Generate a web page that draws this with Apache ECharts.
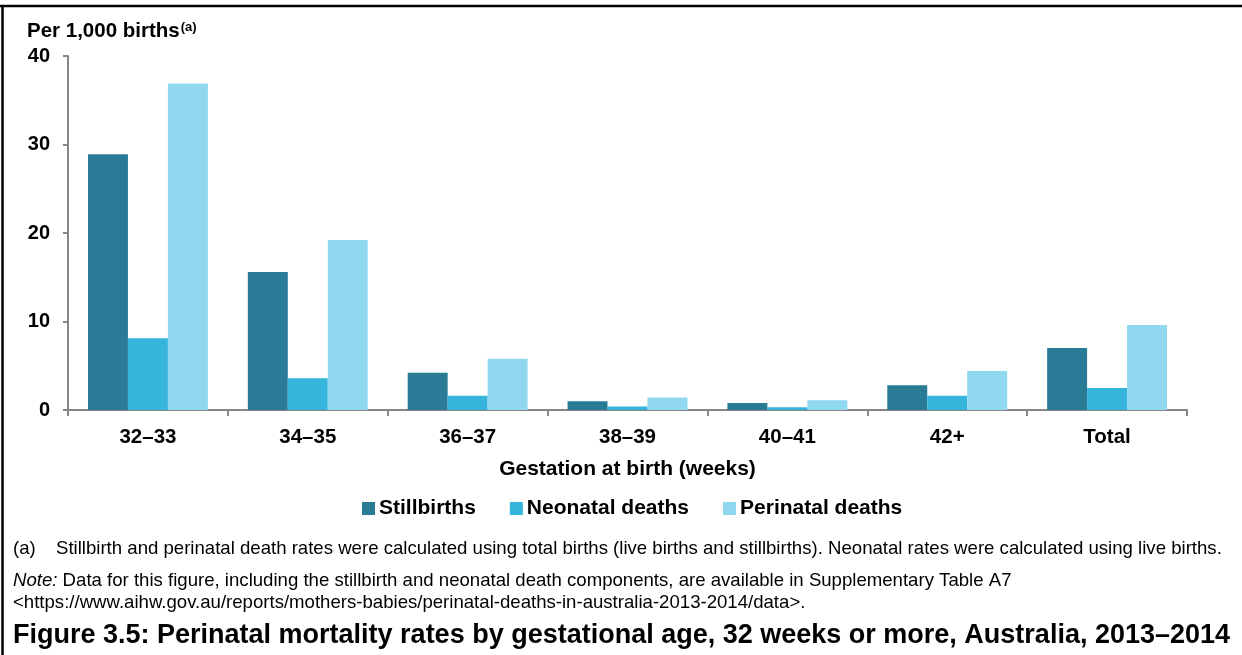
<!DOCTYPE html>
<html>
<head>
<meta charset="utf-8">
<script src="https://cdn.jsdelivr.net/npm/echarts@6/dist/echarts.min.js"></script>
<style>
html,body{margin:0;padding:0;background:#fff;}
#chart{width:1242px;height:655px;}
</style>
</head>
<body>
<div id="chart"></div>
<script>
const categories = ['32–33', '34–35', '36–37', '38–39', '40–41', '42+', 'Total'];
const stillbirths = [28.9, 15.6, 4.2, 1.0, 0.8, 2.8, 7.0];
const neonatal = [8.1, 3.6, 1.6, 0.4, 0.3, 1.6, 2.5];
const perinatal = [36.9, 19.2, 5.8, 1.4, 1.1, 4.4, 9.6];
const seriesNames = ['Stillbirths', 'Neonatal deaths', 'Perinatal deaths'];
const yTicks = [0, 10, 20, 30, 40];

const FONT = '"Liberation Sans", Arial, sans-serif';
const chart = echarts.init(document.getElementById('chart'));
const colors = ['#2a7b96', '#35b4dc', '#8fd8f0'];

chart.setOption({
  animation: false,
  textStyle: { fontFamily: FONT },
  color: colors,
  grid: { left: 68, right: 55, top: 56, bottom: 245, containLabel: false },
  xAxis: {
    type: 'category',
    data: categories,
    axisLine: { lineStyle: { color: '#868686', width: 2 } },
    axisTick: { show: true, length: 6, lineStyle: { color: '#868686', width: 2 } },
    axisLabel: { color: '#000', fontWeight: 'bold', fontSize: 20.5, margin: 17, fontFamily: FONT },
    name: 'Gestation at birth (weeks)',
    nameLocation: 'middle',
    nameGap: 49,
    nameTextStyle: { color: '#000', fontWeight: 'bold', fontSize: 21, fontFamily: FONT }
  },
  yAxis: {
    type: 'value',
    min: yTicks[0],
    max: yTicks[yTicks.length - 1],
    interval: 10,
    axisLine: { show: true, lineStyle: { color: '#868686', width: 2 } },
    axisTick: { show: true, length: 5, lineStyle: { color: '#868686', width: 2 } },
    splitLine: { show: false },
    axisLabel: { color: '#000', fontWeight: 'bold', fontSize: 20, margin: 18, fontFamily: FONT }
  },
  legend: {
    data: seriesNames,
    top: 498,
    left: 362,
    padding: 0,
    itemWidth: 13,
    itemHeight: 13,
    itemGap: 34,
    icon: 'rect',
    textStyle: { color: '#000', fontWeight: 'bold', fontSize: 21, fontFamily: FONT, padding: [0, 0, 0, -1] }
  },
  title: {
    text: '{m|Per 1,000 births}{s|(a)}',
    left: 27,
    top: 21,
    padding: 0,
    textStyle: {
      rich: {
        m: { fontWeight: 'bold', fontSize: 20.5, color: '#000', fontFamily: FONT },
        s: { fontSize: 13, color: '#000', fontFamily: FONT, verticalAlign: 'top', padding: [0, 0, 8, 1] }
      }
    }
  },
  graphic: [
    { type: 'line', shape: { x1: 0, y1: 6, x2: 1242, y2: 6 }, style: { stroke: '#000', lineWidth: 2.5 } },
    { type: 'line', shape: { x1: 2.5, y1: 5, x2: 2.5, y2: 655 }, style: { stroke: '#000', lineWidth: 2.5 } },
    { type: 'text', left: 13, top: 539, style: { text: '(a)', font: '18.6px ' + FONT, fill: '#000' } },
    { type: 'text', left: 56, top: 539, style: { text: 'Stillbirth and perinatal death rates were calculated using total births (live births and stillbirths). Neonatal rates were calculated using live births.', font: '18.6px ' + FONT, fill: '#000' } },
    { type: 'text', left: 13, top: 571, style: { text: '{i|Note:} Data for this figure, including the stillbirth and neonatal death components, are available in Supplementary Table A7', font: '18.6px ' + FONT, fill: '#000', rich: { i: { fontStyle: 'italic', fontSize: 18.6, fontFamily: FONT } } } },
    { type: 'text', left: 13, top: 593, style: { text: '<https://www.aihw.gov.au/reports/mothers-babies/perinatal-deaths-in-australia-2013-2014/data>.', font: '18.6px ' + FONT, fill: '#000' } },
    { type: 'text', left: 13, top: 622, style: { text: 'Figure 3.5: Perinatal mortality rates by gestational age, 32 weeks or more, Australia, 2013–2014', font: 'bold 27px ' + FONT, fill: '#000' } }
  ],
  series: [
    { name: seriesNames[0], type: 'bar', data: stillbirths, barGap: 0, barCategoryGap: '25%' },
    { name: seriesNames[1], type: 'bar', data: neonatal, barGap: 0, barCategoryGap: '25%' },
    { name: seriesNames[2], type: 'bar', data: perinatal, barGap: 0, barCategoryGap: '25%' }
  ]
});
</script>
</body>
</html>
